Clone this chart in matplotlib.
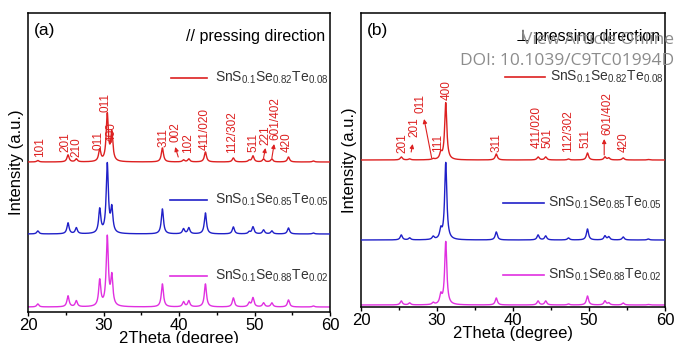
import numpy as np
import matplotlib
matplotlib.use("Agg")
import matplotlib.pyplot as plt

plt.rcParams['font.family'] = ['Liberation Sans', 'DejaVu Sans']
plt.rcParams['mathtext.default'] = 'regular'

# ---------------- data ----------------
series_names = [r'SnS$_{0.1}$Se$_{0.82}$Te$_{0.08}$',
                r'SnS$_{0.1}$Se$_{0.85}$Te$_{0.05}$',
                r'SnS$_{0.1}$Se$_{0.88}$Te$_{0.02}$']
colors = ['#dd2020', '#2020c8', '#e030e0']

# panel (a): parallel to pressing direction
a_pos = [21.3, 25.3, 26.4, 29.5, 30.5, 31.1, 37.8, 40.6, 41.3, 43.5, 47.2, 49.3, 49.8, 51.2, 52.3, 54.5, 57.8]
a_red = [1.5, 7, 3, 12, 47, 28, 14, 2, 3, 10, 4, 1.5, 6, 3, 3, 5, 1]
a_blue = [3, 11, 6, 24, 69, 24, 25, 5, 6, 21, 7, 2, 7, 4, 3, 6, 1]
a_mag = [3, 11, 6, 26, 69, 29, 23, 5, 6, 23, 9, 4, 9, 4, 4, 7, 1]
a_offsets = [150, 78, 5]

# panel (b): perpendicular to pressing direction
b_pos = [25.3, 26.4, 29.5, 30.5, 31.15, 37.8, 43.3, 44.3, 47.3, 49.8, 52.1, 52.6, 54.5, 57.8]
b_red = [3, 1, 1, 6, 57, 6, 3, 3, 1, 7, 3, 2, 2, 0.5]
b_blue = [5, 2, 3, 9, 77, 8, 5, 4, 2, 11, 4, 3, 3, 1]
b_mag = [4, 2, 2, 9, 63, 7, 4, 4, 1, 9, 4, 2, 2, 0.5]
b_offsets = [147, 67, 2]

# peak labels: (text, 2theta, label bottom intensity)
a_labels = [('101', 21.6, 155), ('201', 25.0, 160), ('210', 26.4, 155),
            ('011', 29.4, 162), ('011', 30.3, 200), ('400', 31.1, 170),
            ('311', 37.9, 165), ('002', 39.5, 170), ('102', 41.2, 159),
            ('411/020', 43.4, 162), ('112/302', 47.0, 159), ('511', 49.8, 160),
            ('221', 51.4, 167), ('601/402', 52.8, 172), ('420', 54.3, 160)]
a_arrows = [((39.9, 155), (39.5, 165)), ((51.2, 154), (51.45, 164)),
            ((52.3, 154), (52.6, 168))]

b_labels = [('201', 25.4, 154), ('201', 27.0, 170), ('011', 27.8, 194),
            ('111', 30.1, 155), ('400', 31.3, 207), ('311', 37.8, 155),
            ('411/020', 43.1, 159), ('501', 44.6, 159), ('112/302', 47.3, 155),
            ('511', 49.6, 159), ('601/402', 52.4, 172), ('420', 54.5, 155)]
b_arrows = [((26.6, 155), (26.8, 163)), ((29.3, 149), (28.3, 188)),
            ((52.0, 152), (52.0, 168))]

xticks = [20, 30, 40, 50, 60]

# ---------------- drawing ----------------
W = 0.17  # Lorentzian half width (deg)
x = np.linspace(20, 60, 4001)


def pattern(pos, heights):
    y = np.zeros_like(x)
    for p, h in zip(pos, heights):
        y += h / (1 + ((x - p) / W) ** 2)
    return y


fig = plt.figure(figsize=(6.75, 3.43), dpi=100)
axA = fig.add_axes([28 / 675, 31 / 343, 302 / 675, 299 / 343])
axB = fig.add_axes([361 / 675, 36 / 343, 304 / 675, 294 / 343])

panels = [
    (axA, a_pos, [a_red, a_blue, a_mag], a_offsets, a_labels, a_arrows, 299,
     '(a)', '// pressing direction',
     [(0.473, 0.593, 0.619, 0.783), (0.470, 0.593, 0.619, 0.375), (0.470, 0.593, 0.619, 0.120)]),
    (axB, b_pos, [b_red, b_blue, b_mag], b_offsets, b_labels, b_arrows, 294,
     '(b)', '\u22a5 pressing direction',
     [(0.474, 0.605, 0.622, 0.782), (0.467, 0.602, 0.615, 0.354), (0.467, 0.602, 0.615, 0.109)]),
]

for ax, pos, hs, offs, labels, arrows, ytop, tag, title, legpos in panels:
    # draw bottom first so upper curves lie over the tall peaks
    for i in [2, 1, 0]:
        ax.plot(x, pattern(pos, hs[i]) + offs[i], color=colors[i], lw=1.0, zorder=2 + (2 - i))
    ax.set_xlim(20, 60)
    ax.set_ylim(0, ytop)
    ax.set_yticks([])
    ax.set_xticks(xticks)
    ax.set_xticks([25, 35, 45, 55], minor=True)
    ax.tick_params(axis='x', which='major', direction='out', length=3, width=1, labelsize=12, pad=1)
    ax.tick_params(axis='x', which='minor', direction='out', length=2, width=1)
    for s in ax.spines.values():
        s.set_linewidth(1.1)
    ax.set_xlabel('2Theta (degree)', fontsize=12, labelpad=-1)
    ax.set_ylabel('Intensity (a.u.)', fontsize=12, labelpad=3)
    for txt, px, py in labels:
        ax.text(px, py, txt, rotation=90, ha='center', va='bottom', fontsize=8.5,
                color=colors[0], zorder=6)
    for (x0, y0), (x1, y1) in arrows:
        ax.annotate('', xy=(x1, y1), xytext=(x0, y0),
                    arrowprops=dict(arrowstyle='-|>', color=colors[0], lw=0.8,
                                    mutation_scale=6, shrinkA=0, shrinkB=0), zorder=6)
    ax.text(0.02, 0.965, tag, transform=ax.transAxes, ha='left', va='top', fontsize=12.5)
    ax.text(0.985, 0.945, title, transform=ax.transAxes, ha='right', va='top', fontsize=11.5)
    for i, (lx0, lx1, tx, ly) in enumerate(legpos):
        ax.plot([lx0, lx1], [ly, ly], transform=ax.transAxes, color=colors[i], lw=1.2)
        ax.text(tx, ly, series_names[i], transform=ax.transAxes, ha='left', va='center',
                fontsize=10, color='#333333')

# watermark
fig.text(674 / 675, 1 - 40 / 343, 'View Article Online', ha='right', va='center',
         fontsize=12.5, color='#8c8c8c', family=['Open Sans', 'DejaVu Sans'])
fig.text(674 / 675, 1 - 61 / 343, 'DOI: 10.1039/C9TC01994D', ha='right', va='center',
         fontsize=12.5, color='#8c8c8c', family=['Open Sans', 'DejaVu Sans'])

fig.savefig('out.png', dpi=100)
